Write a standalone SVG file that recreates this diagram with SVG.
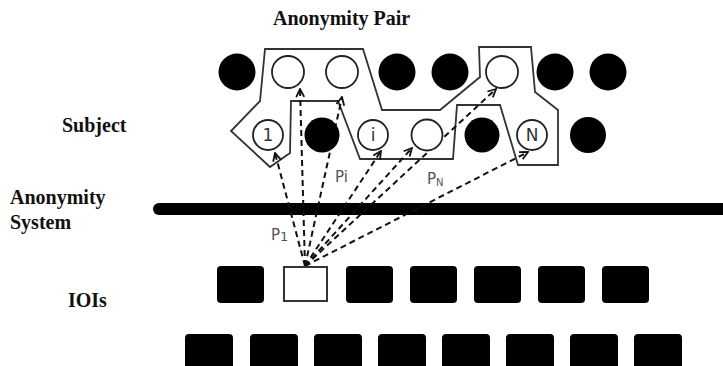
<svg xmlns="http://www.w3.org/2000/svg" width="723" height="366" viewBox="0 0 723 366">
<defs>
<style>
.lbl{font-family:"Liberation Serif","Times New Roman",serif;font-weight:bold;font-size:20px;fill:#111}
.pl{font-family:"DejaVu Sans","Liberation Sans",sans-serif;font-size:15px;fill:#555}
.cl{font-family:"DejaVu Sans","Liberation Sans",sans-serif;font-size:17px;fill:#333;text-anchor:middle}
.fill{fill:#000}
.open{fill:#fff;stroke:#222;stroke-width:1.8}
.box{fill:#000}
.obox{fill:#fff;stroke:#333;stroke-width:2}
.dash{fill:none;stroke:#111;stroke-width:2;stroke-dasharray:6 4;marker-end:url(#ah)}
.poly{fill:none;stroke:#333;stroke-width:1.8;stroke-linejoin:miter}
</style>
<marker id="ah" viewBox="0 0 10 10" refX="9" refY="5" markerWidth="10" markerHeight="10" markerUnits="userSpaceOnUse" orient="auto">
<path d="M1,1 L9,5 L1,9" fill="none" stroke="#111" stroke-width="1.8"/>
</marker>
</defs>
<rect width="723" height="366" fill="#fff"/>

<g id="labels">
<text class="lbl" x="273" y="25">Anonymity Pair</text>
<text class="lbl" x="62" y="132">Subject</text>
<text class="lbl" x="10" y="204">Anonymity</text>
<text class="lbl" x="10" y="229">System</text>
<text class="lbl" x="68" y="307">IOIs</text>
</g>

<g id="anonymity-pair">
<polygon class="poly" points="265,49 363,49 382,110 440,110 480,77 479,47 531,47 535,92 558,110 558,165 518,165 500,105 457,105 453,159 360,159 338,101 291,101 290,153 270,167 231,131 260,101"/>
</g>

<g id="anonymity-system">
<rect x="153" y="203" width="590" height="12" rx="6" fill="#000"/>
</g>

<g id="connectors">
<line class="dash" x1="305" y1="266" x2="275" y2="153"/>
<line class="dash" x1="305" y1="266" x2="300" y2="89"/>
<line class="dash" x1="305" y1="266" x2="342" y2="97"/>
<line class="dash" x1="305" y1="266" x2="381" y2="151"/>
<line class="dash" x1="305" y1="266" x2="412" y2="148"/>
<line class="dash" x1="305" y1="266" x2="496" y2="89"/>
<line class="dash" x1="305" y1="266" x2="528" y2="152"/>
<text class="pl" x="271" y="240">P<tspan font-size="13" dy="1">1</tspan></text>
<text class="pl" x="335" y="182">Pi</text>
<text class="pl" x="427" y="184">P<tspan font-size="10" dy="2">N</tspan></text>
</g>

<g id="top-row">
<circle class="fill" cx="237" cy="72" r="18.5"/>
<circle class="open" cx="288" cy="72" r="16"/>
<circle class="open" cx="342" cy="72" r="16"/>
<circle class="fill" cx="397" cy="72" r="18.5"/>
<circle class="fill" cx="450" cy="72" r="18.5"/>
<circle class="open" cx="502" cy="72" r="16"/>
<circle class="fill" cx="555" cy="72" r="18.5"/>
<circle class="fill" cx="608" cy="72" r="18.5"/>
</g>

<g id="subject-row">
<g id="s1"><circle class="open" cx="268" cy="135" r="15"/><text class="cl" x="268" y="141">1</text></g>
<circle class="fill" cx="322" cy="135" r="17.5"/>
<g id="si"><circle class="open" cx="373" cy="135" r="15"/><text class="cl" x="373" y="141">i</text></g>
<circle class="open" cx="427" cy="135" r="15.5"/>
<circle class="fill" cx="482" cy="135" r="17.5"/>
<g id="sN"><circle class="open" cx="532" cy="135" r="15"/><text class="cl" x="532" y="141">N</text></g>
<circle class="fill" cx="588" cy="135" r="18"/>
</g>

<g id="ioi-row1">
<rect class="box" x="217" y="266" width="47" height="37" rx="4"/>
<rect class="obox" x="284" y="267" width="43" height="34"/>
<rect class="box" x="346" y="266" width="47" height="37" rx="4"/>
<rect class="box" x="410" y="266" width="47" height="37" rx="4"/>
<rect class="box" x="474" y="266" width="47" height="37" rx="4"/>
<rect class="box" x="538" y="266" width="47" height="37" rx="4"/>
<rect class="box" x="602" y="266" width="47" height="37" rx="4"/>
</g>

<g id="ioi-row2">
<rect class="box" x="185" y="334" width="48" height="40" rx="4"/>
<rect class="box" x="250" y="334" width="48" height="40" rx="4"/>
<rect class="box" x="314" y="334" width="48" height="40" rx="4"/>
<rect class="box" x="378" y="334" width="48" height="40" rx="4"/>
<rect class="box" x="442" y="334" width="48" height="40" rx="4"/>
<rect class="box" x="506" y="334" width="48" height="40" rx="4"/>
<rect class="box" x="570" y="334" width="48" height="40" rx="4"/>
<rect class="box" x="634" y="334" width="48" height="40" rx="4"/>
</g>
</svg>
